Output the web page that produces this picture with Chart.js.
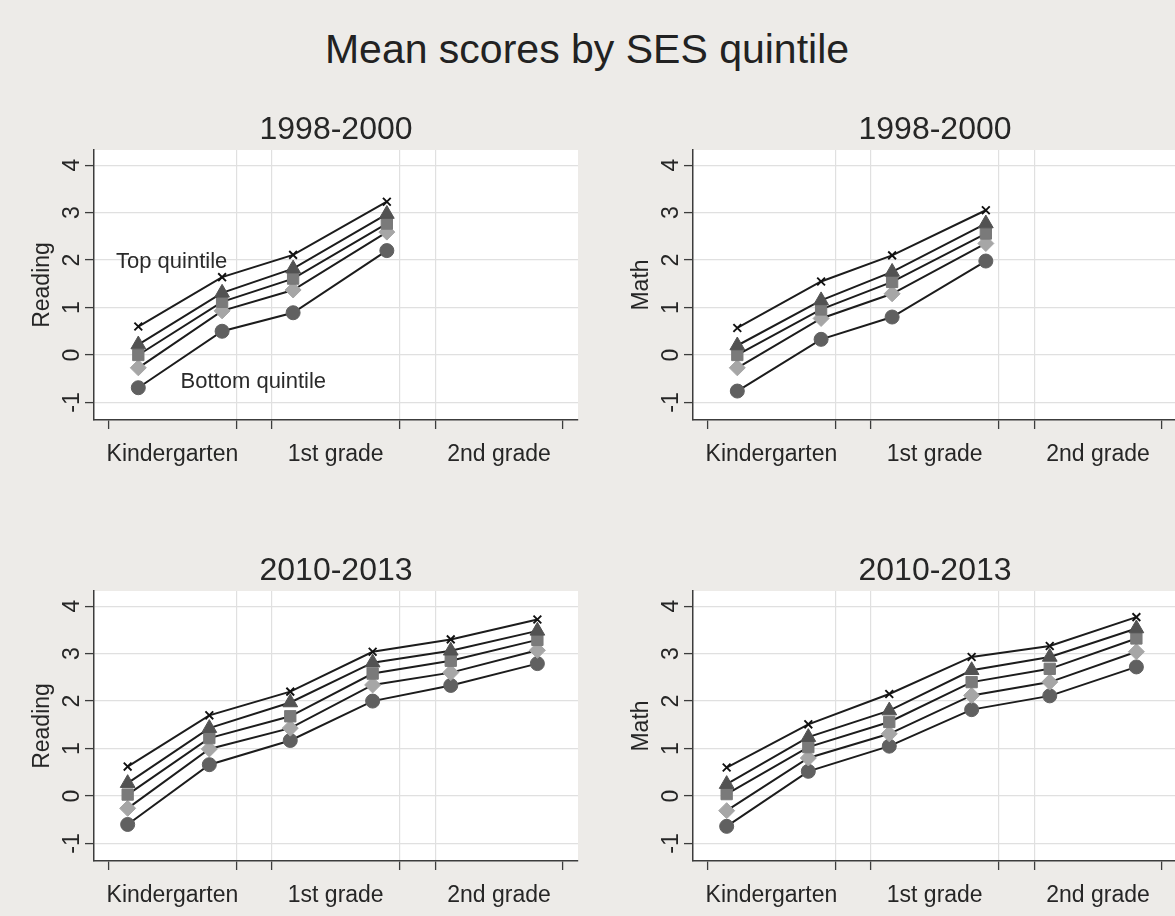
<!DOCTYPE html>
<html>
<head>
<meta charset="utf-8">
<script src="https://cdn.jsdelivr.net/npm/chart.js@4.4.1/dist/chart.umd.min.js"></script>
<style>
  html, body { margin: 0; padding: 0; background: #EDEBE8; width: 1175px; height: 916px; overflow: hidden; }
  #mainTitle { position: absolute; left: 0; width: 1174px; top: 25px; text-align: center;
    font: 41px/48px "Liberation Sans", Arial, Helvetica, sans-serif; color: #222; white-space: nowrap; }
  canvas { position: absolute; }
</style>
</head>
<body>
<div id="mainTitle">Mean scores by SES quintile</div>
<canvas id="c1" width="674" height="380" style="left:0px;top:100px"></canvas>
<canvas id="c2" width="674" height="380" style="left:599px;top:100px"></canvas>
<canvas id="c3" width="674" height="380" style="left:0px;top:541px"></canvas>
<canvas id="c4" width="674" height="380" style="left:599px;top:541px"></canvas>
<script>
// ---------------- data ----------------
const gradeLabels = ['Kindergarten', '1st grade', '2nd grade'];
const gradeBoundaries = [0, 9, 11.5, 20.5, 23, 32];
const gradeCenters = [4.5, 16, 27.5];
const yTicks = [-1, 0, 1, 2, 3, 4];
const seriesNames = ['Top quintile', '4th quintile', '3rd quintile', '2nd quintile', 'Bottom quintile'];

// assessment timing (same scale as the grade boundaries)
const waves1998 = [2.1, 8.0, 13.0, 19.6];
const waves2010 = [1.35, 7.1, 12.8, 18.6, 24.1, 30.2];

const reading1998_top    = [0.60, 1.64, 2.11, 3.23];
const reading1998_q4     = [0.22, 1.31, 1.82, 2.97];
const reading1998_q3     = [0.00, 1.12, 1.61, 2.77];
const reading1998_q2     = [-0.27, 0.93, 1.37, 2.59];
const reading1998_bottom = [-0.69, 0.50, 0.89, 2.20];

const math1998_top    = [0.57, 1.55, 2.10, 3.05];
const math1998_q4     = [0.20, 1.15, 1.75, 2.77];
const math1998_q3     = [0.00, 0.96, 1.54, 2.56];
const math1998_q2     = [-0.27, 0.77, 1.29, 2.35];
const math1998_bottom = [-0.76, 0.33, 0.80, 1.98];

const reading2010_top    = [0.62, 1.70, 2.20, 3.04, 3.30, 3.72];
const reading2010_q4     = [0.27, 1.43, 1.97, 2.81, 3.06, 3.48];
const reading2010_q3     = [0.03, 1.22, 1.68, 2.58, 2.85, 3.29];
const reading2010_q2     = [-0.26, 0.99, 1.43, 2.34, 2.60, 3.07];
const reading2010_bottom = [-0.60, 0.66, 1.17, 2.00, 2.33, 2.79];

const math2010_top    = [0.60, 1.51, 2.15, 2.93, 3.16, 3.77];
const math2010_q4     = [0.25, 1.24, 1.80, 2.65, 2.93, 3.53];
const math2010_q3     = [0.04, 1.03, 1.56, 2.40, 2.68, 3.32];
const math2010_q2     = [-0.31, 0.80, 1.31, 2.12, 2.40, 3.04];
const math2010_bottom = [-0.64, 0.52, 1.05, 1.82, 2.11, 2.72];

const noteTexts = ['Top quintile', 'Bottom quintile'];
const noteX = [4.45, 10.2];
const noteY = [1.96, -0.56];

// ---------------- styling ----------------
const FONT = '"Liberation Sans", Arial, Helvetica, sans-serif';
const TEXT = '#262626';
const AXIS = '#3c3c3c';
const GRID = '#e0e0e0';
const X_MIN = -1.02, X_MAX = 33.06;
const Y_MIN = -1.37, Y_MAX = 4.32;

const markerStyles = [
  { pointStyle: 'crossRot', radius: 5.5, bg: '#111111', border: '#111111', bw: 1.9 },
  { pointStyle: 'triangle', radius: 8.5, bg: '#525252', border: '#525252', bw: 1 },
  { pointStyle: 'rect',     radius: 8,   bg: '#7a7a7a', border: '#7a7a7a', bw: 1 },
  { pointStyle: 'rectRot',  radius: 8,   bg: '#a6a6a6', border: '#a6a6a6', bw: 1 },
  { pointStyle: 'circle',   radius: 7,   bg: '#606060', border: '#606060', bw: 1 }
];

function buildDatasets(xs, seriesList) {
  return seriesList.map((vals, i) => {
    const st = markerStyles[i];
    return {
      label: seriesNames[i],
      data: vals.map((v, j) => ({ x: xs[j], y: v })),
      borderColor: '#1c1c1c',
      borderWidth: 2,
      pointStyle: st.pointStyle,
      pointRadius: st.radius,
      pointBackgroundColor: st.bg,
      pointBorderColor: st.border,
      pointBorderWidth: st.bw,
      tension: 0,
      fill: false
    };
  });
}

const whiteArea = {
  id: 'whiteArea',
  beforeDraw(chart) {
    const a = chart.chartArea, ctx = chart.ctx;
    ctx.save();
    ctx.fillStyle = '#ffffff';
    ctx.fillRect(a.left, a.top, a.right - a.left, a.bottom - a.top);
    ctx.restore();
  }
};

const rotatedYLabels = {
  id: 'rotatedYLabels',
  afterDraw(chart) {
    const s = chart.scales.y, ctx = chart.ctx;
    ctx.save();
    ctx.fillStyle = TEXT;
    ctx.font = '23px ' + FONT;
    ctx.textAlign = 'center';
    ctx.textBaseline = 'alphabetic';
    yTicks.forEach(v => {
      const py = s.getPixelForValue(v);
      ctx.save();
      ctx.translate(chart.chartArea.left - 15, py);
      ctx.rotate(-Math.PI / 2);
      ctx.fillText(String(v), 0, 0);
      ctx.restore();
    });
    ctx.restore();
  }
};

const notes = {
  id: 'notes',
  afterDatasetsDraw(chart, args, opts) {
    if (!opts || !opts.show) return;
    const ctx = chart.ctx;
    ctx.save();
    ctx.fillStyle = '#2a2a2a';
    ctx.font = '22px ' + FONT;
    ctx.textAlign = 'center';
    ctx.textBaseline = 'middle';
    noteTexts.forEach((t, i) => {
      ctx.fillText(t, chart.scales.x.getPixelForValue(noteX[i]), chart.scales.y.getPixelForValue(noteY[i]));
    });
    ctx.restore();
  }
};

function makeChart(id, subtitle, yTitle, xs, seriesList, showNotes) {
  return new Chart(document.getElementById(id), {
    type: 'line',
    data: { datasets: buildDatasets(xs, seriesList) },
    plugins: [whiteArea, rotatedYLabels, notes],
    options: {
      responsive: false,
      devicePixelRatio: 1,
      animation: false,
      events: [],
      layout: { padding: { left: 0, top: 0, right: 96, bottom: 0 } },
      plugins: {
        legend: { display: false },
        tooltip: { enabled: false },
        notes: { show: showNotes },
        title: {
          display: true, text: subtitle, fullSize: false, color: TEXT,
          font: { family: FONT, size: 32, weight: 'normal' },
          padding: { top: 10.5, bottom: 1.1 }
        }
      },
      scales: {
        x: {
          type: 'linear', position: 'bottom', weight: 0, min: X_MIN, max: X_MAX,
          afterBuildTicks: s => { s.ticks = gradeBoundaries.map(v => ({ value: v })); },
          afterFit: s => { s.height = 9; },
          ticks: { display: false },
          grid: {
            color: c => (c.tick && (c.tick.value === gradeBoundaries[0] || c.tick.value === gradeBoundaries[gradeBoundaries.length - 1])) ? 'rgba(0,0,0,0)' : GRID,
            lineWidth: 1.2, tickColor: AXIS, tickLength: 9, tickWidth: 1.3
          },
          border: { display: true, color: AXIS, width: 1.5 }
        },
        x2: {
          type: 'linear', position: 'bottom', weight: 1, min: X_MIN, max: X_MAX,
          afterBuildTicks: s => { s.ticks = gradeCenters.map(v => ({ value: v })); },
          afterFit: s => { s.height = 51; },
          grid: { display: false },
          border: { display: false },
          ticks: {
            autoSkip: false, maxRotation: 0, minRotation: 0, padding: 4, color: TEXT,
            font: { family: FONT, size: 23 },
            callback: (v, i) => gradeLabels[i]
          }
        },
        y: {
          type: 'linear', min: Y_MIN, max: Y_MAX,
          afterBuildTicks: s => { s.ticks = yTicks.map(v => ({ value: v })); },
          afterFit: s => { s.width = 94; },
          ticks: { display: false },
          grid: { color: GRID, lineWidth: 1.2, tickColor: AXIS, tickLength: 9, tickWidth: 1.3 },
          border: { display: true, color: AXIS, width: 1.5 },
          title: {
            display: true, text: yTitle, color: TEXT,
            font: { family: FONT, size: 23 },
            padding: { top: 29, bottom: 0 }
          }
        }
      }
    }
  });
}

makeChart('c1', '1998-2000', 'Reading', waves1998,
  [reading1998_top, reading1998_q4, reading1998_q3, reading1998_q2, reading1998_bottom], true);
makeChart('c2', '1998-2000', 'Math', waves1998,
  [math1998_top, math1998_q4, math1998_q3, math1998_q2, math1998_bottom], false);
makeChart('c3', '2010-2013', 'Reading', waves2010,
  [reading2010_top, reading2010_q4, reading2010_q3, reading2010_q2, reading2010_bottom], false);
makeChart('c4', '2010-2013', 'Math', waves2010,
  [math2010_top, math2010_q4, math2010_q3, math2010_q2, math2010_bottom], false);
</script>
</body>
</html>
